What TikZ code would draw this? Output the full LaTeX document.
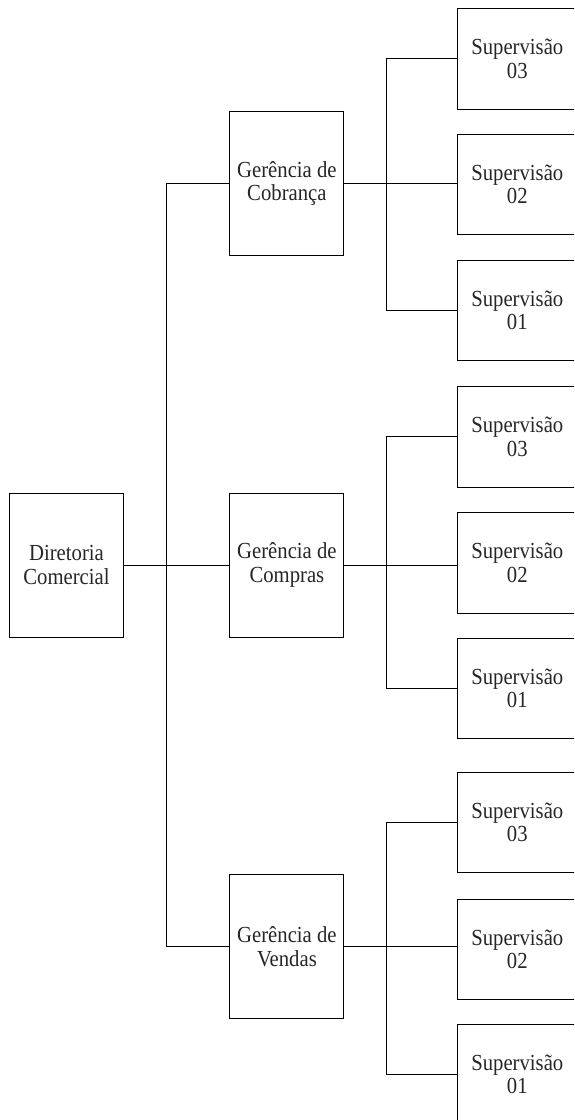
\documentclass[tikz,border=0pt]{standalone}
\usepackage{fontspec}
\setmainfont[FakeStretch=0.9]{Liberation Serif}
\usetikzlibrary{positioning}

\begin{document}
\begin{tikzpicture} [node distance = 105.5pt, x=1pt, y=1pt]
            \tikzstyle{unit}=[rectangle, draw, line width=0.9pt, minimum width=114pt, minimum height=144pt, inner sep=0pt, align=center, font=\fontsize{23}{23.5}\selectfont, text=black!85]
            \tikzstyle{sub}=[unit, minimum width=120pt, minimum height=100.5pt]
            \tikzstyle{link}=[line width=0.9pt]
            \clip (0,0) rectangle (574,-1120);

            \node[unit]     (dir)       at (66.5,-565)              {Diretoria\\Comercial};
            \node[unit]     (compras)   [right=of dir]              {Gerência de\\Compras};
            \node[unit]     (cobranca)  [above=236.8pt of compras]  {Gerência de\\Cobrança};
            \node[unit]     (vendas)    [below=237pt of compras]    {Gerência de\\Vendas};

            % supervisoes
            \node[sub]      (cob2)      [right=112.5pt of cobranca, yshift=-1.3pt] {Supervisão\\02};
            \node[sub]      (cob3)      [above=24.5pt of cob2]      {Supervisão\\03};
            \node[sub]      (cob1)      [below=24.5pt of cob2]      {Supervisão\\01};
            \node[sub]      (comp2)     [right=112.5pt of compras, yshift=2.3pt] {Supervisão\\02};
            \node[sub]      (comp3)     [above=24.5pt of comp2]     {Supervisão\\03};
            \node[sub]      (comp1)     [below=24.5pt of comp2]     {Supervisão\\01};
            \node[sub]      (ven2)      [right=112.5pt of vendas, yshift=-2.4pt] {Supervisão\\02};
            \node[sub]      (ven3)      [above=25.5pt of ven2]      {Supervisão\\03};
            \node[sub]      (ven1)      [below=23.5pt of ven2]      {Supervisão\\01};

            \coordinate (dirbus)  at ([xshift=42.5pt]dir.east);
            \coordinate (cobbus)  at ([xshift=42.5pt]cobranca.east);
            \coordinate (compbus) at ([xshift=42.5pt]compras.east);
            \coordinate (venbus)  at ([xshift=42.5pt]vendas.east);

            \draw[link] (dir) -- (compras);
            \draw[link] (cobranca) -| (dirbus) |- (vendas);
            \draw[link] (cobranca) -- (cobranca -| cob2.west);
            \draw[link] (cob3) -| (cobbus) |- (cob1);
            \draw[link] (compras) -- (compras -| comp2.west);
            \draw[link] (comp3) -| (compbus) |- (comp1);
            \draw[link] (vendas) -- (vendas -| ven2.west);
            \draw[link] (ven3) -| (venbus) |- (ven1);
        \end{tikzpicture}
\end{document}
